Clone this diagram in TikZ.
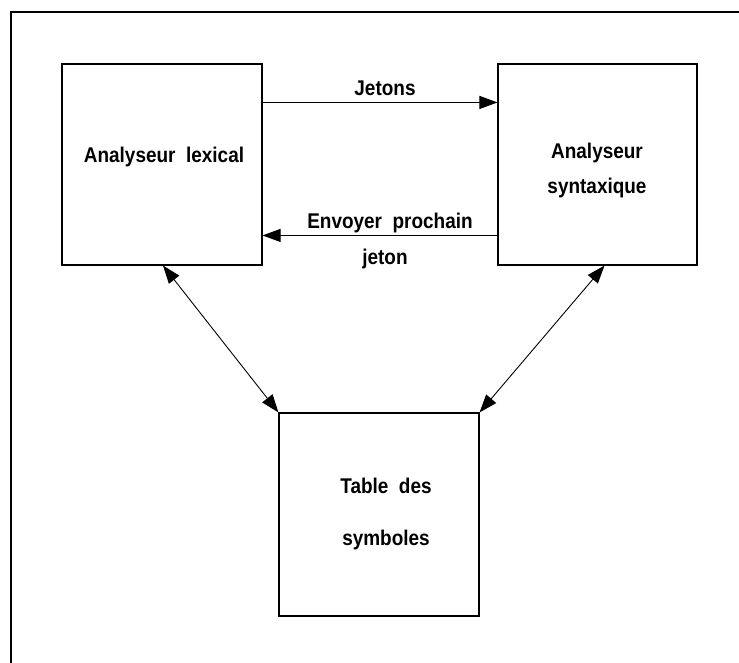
\documentclass[tikz,border=0pt]{standalone}
\usepackage{fontspec}
\setmainfont{Liberation Sans}[FakeStretch=0.89]
\usetikzlibrary{arrows.meta}
\begin{document}
\begin{tikzpicture}[x=1pt,y=-1pt,
  box/.style={draw,line width=1.1pt,minimum width=200pt,minimum height=201pt,inner sep=0pt},
  txt/.style={font=\fontsize{21.3}{25}\selectfont\bfseries,align=center,inner sep=0pt},
  arr/.style={line width=0.9pt,-{Triangle[length=18pt,width=13pt]}},
  darr/.style={line width=0.9pt,{Triangle[length=18pt,width=13pt]}-{Triangle[length=18pt,width=13pt]}},
  frame/.style={line width=2.2pt}]
\useasboundingbox (0,0) rectangle (739,663);
% outer frame (cut off on right and bottom)
\coordinate (fbl) at (11,668);
\coordinate (ftl) at (11,12);
\coordinate (ftr) at (745,12);
\draw[frame] (fbl) -- (ftl) -- (ftr);
% boxes
\node[box] (lex) at (162,164.5) {};
\node[box,minimum width=199pt] (syn) at (597.5,164.5) {};
\node[box,minimum height=203pt] (tab) at (379,514.5) {};
% box texts
\node[txt] (lexT) at (164,157) {Analyseur\ \ lexical};
\node[txt] (synT) at (597,170.5) {Analyseur\\[10pt]syntaxique};
\node[txt] (tabT) at (386,514) {Table\ \ des\\[27pt]symboles};
% connectors
\draw[arr] ([yshift=-39pt]lex.north east) -- ([yshift=-39pt]syn.north west);
\draw[arr] ([yshift=-172pt]syn.north west) -- ([yshift=-172pt]lex.north east);
\draw[darr] ([xshift=1pt]lex.south) -- (tab.north west);
\draw[darr] ([xshift=7pt]syn.south) -- (tab.north east);
% connector labels
\node[txt] (jetons) at (385,88) {Jetons};
\node[txt] (envoyer) at (390,223) {Envoyer\ \ prochain};
\node[txt] (jeton) at (385,259) {jeton};
\end{tikzpicture}
\end{document}
